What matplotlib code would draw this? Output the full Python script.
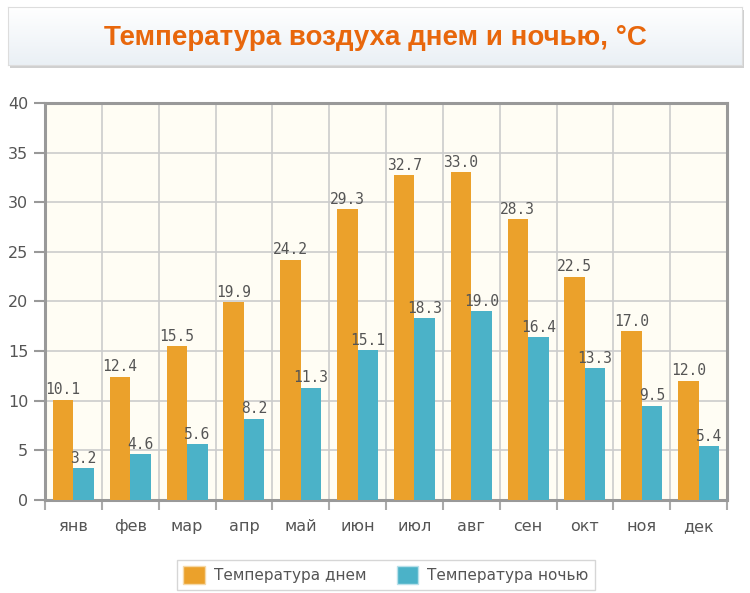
import numpy as np
import matplotlib.pyplot as plt
from matplotlib.patches import Rectangle, Patch
from matplotlib.colors import LinearSegmentedColormap

# данные
months = ['янв', 'фев', 'мар', 'апр', 'май', 'июн', 'июл', 'авг', 'сен', 'окт', 'ноя', 'дек']
day_t = [10.1, 12.4, 15.5, 19.9, 24.2, 29.3, 32.7, 33.0, 28.3, 22.5, 17.0, 12.0]
night_t = [3.2, 4.6, 5.6, 8.2, 11.3, 15.1, 18.3, 19.0, 16.4, 13.3, 9.5, 5.4]
yticks = [0, 5, 10, 15, 20, 25, 30, 35, 40]

c_day = '#EBA12B'
c_night = '#4BB2C8'
txt = '#555555'

fig = plt.figure(figsize=(7.5, 5.93), dpi=100)

# заголовок в рамке с тенью и градиентом
fig.patches.append(Rectangle((10/750, 1 - 68/593), 734/750, 58/593, transform=fig.transFigure,
                             facecolor='#d0d0d0', edgecolor='none', zorder=-1))
tax = fig.add_axes([8/750, 1 - 65/593, 734/750, 58/593], zorder=2)
grad = np.linspace(0, 1, 100).reshape(-1, 1)
tax.imshow(grad, aspect='auto', cmap=LinearSegmentedColormap.from_list('g', ['#ffffff', '#eaf0f5']),
           extent=[0, 1, 0, 1])
tax.set_xlim(0, 1)
tax.set_ylim(0, 1)
tax.set_xticks([])
tax.set_yticks([])
for s in tax.spines.values():
    s.set_color('#dddddd')
tax.text(0.5, 0.47, 'Температура воздуха днем и ночью, °C', ha='center', va='center',
         fontsize=20, fontweight='bold', color='#E8670C', family='Liberation Sans')

# график
ax = fig.add_axes([45/750, 1 - 500/593, 682/750, 397/593])
ax.set_facecolor('#FFFDF4')
x = np.arange(len(months))
w = 0.36
ax.bar(x + 0.14, day_t, w, align='edge', color=c_day, zorder=3)
ax.bar(x + 0.5, night_t, w, align='edge', color=c_night, zorder=3)

for i in range(len(months)):
    ax.text(x[i] + 0.14 + w/2, day_t[i] + 0.25, f'{day_t[i]:.1f}', ha='center', va='bottom',
            fontsize=10.5, color=txt, family='DejaVu Sans Mono', zorder=4)
    ax.text(x[i] + 0.5 + w/2, night_t[i] + 0.25, f'{night_t[i]:.1f}', ha='center', va='bottom',
            fontsize=10.5, color=txt, family='DejaVu Sans Mono', zorder=4)

ax.set_xlim(0, 12)
ax.set_ylim(0, 40)
ax.set_yticks(yticks)
ax.set_xticks(np.arange(0, 13))
ax.set_xticklabels([])
ax.set_xticks(x + 0.5, minor=True)
ax.set_xticklabels(months, minor=True)
ax.tick_params(axis='x', which='minor', length=0, pad=14, labelsize=11.5, labelcolor=txt)
ax.tick_params(axis='x', which='major', length=7, color='#aaaaaa', width=1.5)
ax.tick_params(axis='y', length=8, color='#999999', width=1.5, labelsize=11.5, labelcolor=txt, pad=4)
ax.grid(True, which='major', color='#cccccc', linewidth=1.2, zorder=0)
for s in ax.spines.values():
    s.set_color('#999999')
    s.set_linewidth(2.2)

handles = [Patch(facecolor=c_day, edgecolor='#f5d9a8', label='Температура днем'),
           Patch(facecolor=c_night, edgecolor='#b8e0ea', label='Температура ночью')]
leg = fig.legend(handles=handles, loc='center', bbox_to_anchor=(386/750, 1 - 575/593), ncol=2,
                 fontsize=11, frameon=True, fancybox=False, edgecolor='#cccccc',
                 handlelength=1.4, handleheight=1.4, handletextpad=0.6, columnspacing=2.0,
                 borderpad=0.4)
for t in leg.get_texts():
    t.set_color(txt)

plt.savefig('out.png', dpi=100)
